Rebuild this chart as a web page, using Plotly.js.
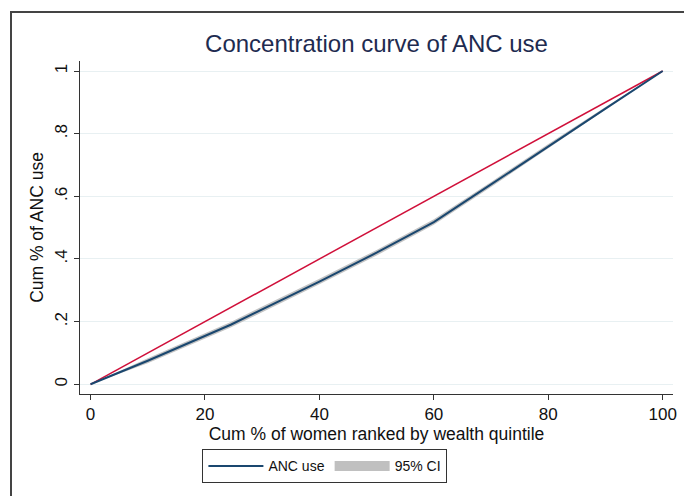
<!DOCTYPE html>
<html>
<head>
<meta charset="utf-8">
<script src="https://cdn.plot.ly/plotly-3.0.1.min.js"></script>
<style>
  html, body { margin: 0; padding: 0; background: #fff; }
  #wrap { position: relative; width: 684px; height: 496px; }
  #chart { width: 684px; height: 496px; }
  #frame { position: absolute; left: 10px; top: 11px; width: 680px; height: 490px;
           border-left: 2px solid #444; border-top: 2px solid #444; pointer-events: none; }
</style>
</head>
<body>
<div id="wrap">
  <div id="chart"></div>
  <div id="frame"></div>
</div>
<script>
// Cumulative % of women ranked by wealth
const cumWomen = [0, 10, 24.5, 40, 50, 60, 70, 80, 90, 100];
// Cumulative share of ANC use (concentration curve)
const cumANC   = [0, 0.075, 0.19, 0.328, 0.42, 0.518, 0.638, 0.76, 0.88, 1];
// 95% CI bounds
const ciLower  = [0, 0.067, 0.181, 0.319, 0.411, 0.509, 0.63, 0.753, 0.875, 1];
const ciUpper  = [0, 0.083, 0.199, 0.337, 0.429, 0.527, 0.646, 0.767, 0.885, 1];
// Line of equality
const eqX = [0, 100];
const eqY = [0, 1];

const xTicks = [0, 20, 40, 60, 80, 100];
const xTickText = ["0", "20", "40", "60", "80", "100"];
const yTicks = [0, 0.2, 0.4, 0.6, 0.8, 1];
const yTickText = ["0", ".2", ".4", ".6", ".8", "1"];

const font = "Liberation Sans, Arial, sans-serif";

const traces = [
  { x: eqX, y: eqY, mode: "lines", line: { color: "#d0103a", width: 1.5 },
    showlegend: false },
  { x: cumWomen, y: ciLower, mode: "lines", line: { width: 0, color: "rgba(0,0,0,0)" },
    showlegend: false, hoverinfo: "skip" },
  { x: cumWomen, y: ciUpper, mode: "lines", fill: "tonexty", fillcolor: "#c4c4c4",
    line: { width: 0, color: "rgba(0,0,0,0)" }, showlegend: false },
  // legend-only entry for the CI band
  { x: [null], y: [null], mode: "lines", line: { color: "#c0c0c0", width: 10 },
    name: "95% CI" },
  { x: cumWomen, y: cumANC, mode: "lines", line: { color: "#1a476f", width: 2 },
    name: "ANC use" }
];

const layout = {
  width: 684, height: 496,
  margin: { l: 80, r: 11, t: 61, b: 102 },
  paper_bgcolor: "#ffffff", plot_bgcolor: "#ffffff",
  font: { family: font, color: "#111", size: 15 },
  title: { text: "Concentration curve of ANC use", x: 0.5, xref: "paper",
           y: 0.912, yref: "container", yanchor: "middle",
           font: { family: font, size: 24, color: "#1e2b50" } },
  xaxis: {
    range: [-1.84, 101.8], tickvals: xTicks, ticktext: xTickText,
    ticks: "outside", ticklen: 5, tickcolor: "#333", showline: true, linecolor: "#333",
    linewidth: 1, showgrid: false, zeroline: false,
    tickfont: { family: font, size: 17, color: "#111" },
    title: { text: "Cum % of women ranked by wealth quintile", standoff: 0,
             font: { family: font, size: 17.5, color: "#111" } }
  },
  yaxis: {
    range: [-0.031, 1.032], tickvals: yTicks, ticktext: yTickText, tickangle: -90,
    ticks: "outside", ticklen: 5, tickcolor: "#333", showline: true, linecolor: "#333",
    linewidth: 1, showgrid: true, gridcolor: "#e8f0f2", gridwidth: 1, zeroline: false,
    tickfont: { family: font, size: 17, color: "#111" },
    title: { text: "Cum % of ANC use", standoff: 4,
             font: { family: font, size: 17.5, color: "#111" } }
  },
  showlegend: true,
  legend: {
    orientation: "h", x: 0.413, xanchor: "center", y: -0.166, yanchor: "top",
    traceorder: "reversed",
    bordercolor: "#333", borderwidth: 1, bgcolor: "#fff",
    font: { family: font, size: 14, color: "#111" },
    itemwidth: 55
  }
};

Plotly.newPlot("chart", traces, layout, { displayModeBar: false, staticPlot: true });
</script>
</body>
</html>
